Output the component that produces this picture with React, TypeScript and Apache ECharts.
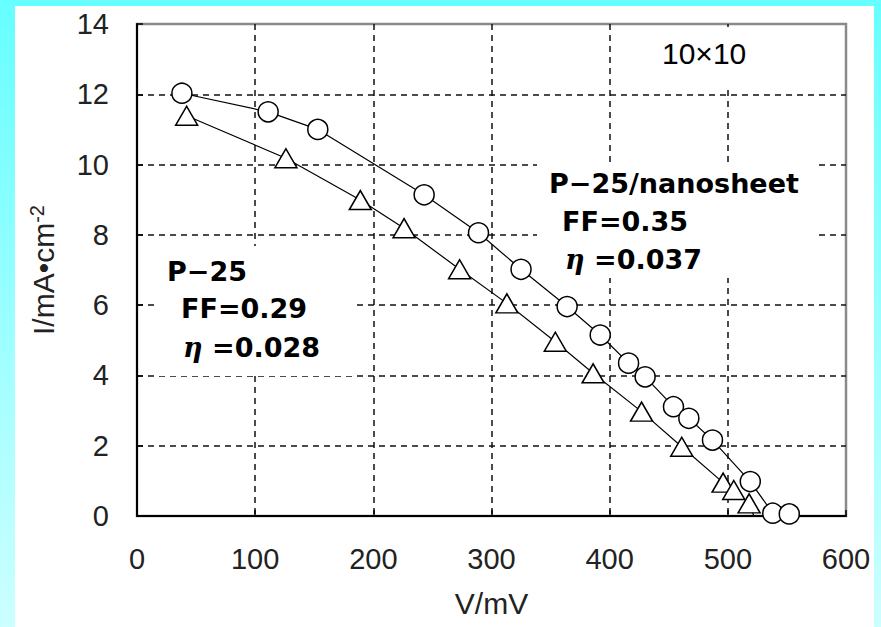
import React, { useEffect, useRef } from "react";
import * as echarts from "echarts";

const xTicks = [0, 100, 200, 300, 400, 500, 600];
const yTicks = [0, 2, 4, 6, 8, 10, 12, 14];

const nanosheetV = [38, 111, 153, 243, 289, 325, 364, 392, 416, 430, 454, 467, 487, 519, 538, 552];
const nanosheetI = [12.03, 11.5, 11.0, 9.14, 8.06, 7.02, 5.96, 5.15, 4.35, 3.96, 3.11, 2.78, 2.16, 0.98, 0.08, 0.06];

const p25V = [42, 126, 189, 226, 273, 313, 354, 386, 427, 461, 496, 505, 518, 522];
const p25I = [11.39, 10.18, 8.99, 8.19, 7.02, 6.05, 4.96, 4.06, 2.97, 1.97, 0.95, 0.74, 0.36, 0.0];

const labelFont = "'Liberation Sans', Arial, sans-serif";
const annFont = "'DejaVu Sans', sans-serif";

export default function App() {
  const ref = useRef<HTMLDivElement>(null);
  useEffect(() => {
    document.body.style.margin = "0";
    const chart = echarts.init(ref.current!, null, { renderer: "svg" });
    const nanoData = nanosheetV.map((v, i) => [v, nanosheetI[i]]);
    const p25Data = p25V.map((v, i) =>
      i === p25V.length - 1 ? { value: [v, p25I[i]], symbol: "none" } : [v, p25I[i]]
    );
    const annStyle = (text: string, x: number, y: number) => ({
      type: "text",
      x,
      y,
      z: 5,
      silent: true,
      style: {
        text,
        fill: "#000",
        fontSize: 27,
        fontWeight: "bold",
        fontFamily: annFont,
        textVerticalAlign: "middle",
        verticalAlign: "middle",
        rich: {
          e: { fontSize: 27, fontStyle: "italic", fontWeight: "bold", fontFamily: "'DejaVu Serif', serif", fill: "#000" },
        },
      },
    });
    chart.setOption({
      animation: false,
      backgroundColor: "transparent",
      grid: {
        left: 137,
        right: 35,
        top: 24,
        bottom: 111,
        show: true,
        borderColor: "#8a8a8a",
        borderWidth: 2.5,
        backgroundColor: "transparent",
      },
      xAxis: {
        type: "value",
        min: 0,
        max: 600,
        interval: 100,
        name: "V/mV",
        nameLocation: "middle",
        nameGap: 72,
        nameTextStyle: { fontSize: 30, fontFamily: labelFont, color: "#222" },
        axisLine: { show: true, onZero: false, lineStyle: { color: "#000", width: 2 } },
        axisTick: { show: true, inside: true, length: 6, lineStyle: { color: "#000", width: 1.5 } },
        axisLabel: {
          fontSize: 29,
          fontFamily: labelFont,
          color: "#222",
          margin: 28,
          formatter: (v: number) => (xTicks.includes(v) ? String(v) : ""),
        },
        splitLine: {
          show: true,
          showMinLine: false,
          showMaxLine: false,
          lineStyle: { color: "#111", type: [6, 5], width: 1.5 },
        },
      },
      yAxis: {
        type: "value",
        min: 0,
        max: 14,
        interval: 2,
        name: "I/mA•cm{sup|-2}",
        nameLocation: "middle",
        nameGap: 78,
        nameRotate: 90,
        nameTextStyle: {
          fontSize: 30,
          fontFamily: labelFont,
          color: "#222",
          rich: {
            sup: { fontSize: 20, fontFamily: labelFont, color: "#222", verticalAlign: "top", padding: [0, 0, 12, 0] },
          },
        },
        axisLine: { show: true, onZero: false, lineStyle: { color: "#000", width: 2 } },
        axisTick: { show: true, inside: true, length: 6, lineStyle: { color: "#000", width: 1.5 } },
        axisLabel: {
          fontSize: 29,
          fontFamily: labelFont,
          color: "#222",
          margin: 28,
          formatter: (v: number) => (yTicks.includes(v) ? String(v) : ""),
        },
        splitLine: {
          show: true,
          showMinLine: false,
          showMaxLine: false,
          lineStyle: { color: "#111", type: [6, 5], width: 1.5 },
        },
      },
      graphic: [
        { type: "rect", z: 1, silent: true, shape: { x: 640, y: 27, width: 150, height: 60 }, style: { fill: "#fff" } },
        { type: "rect", z: 1, silent: true, shape: { x: 537, y: 163, width: 280, height: 115 }, style: { fill: "#fff" } },
        { type: "rect", z: 1, silent: true, shape: { x: 156, y: 246, width: 198, height: 130 }, style: { fill: "#fff" } },
        {
          type: "text",
          x: 662,
          y: 53,
          z: 5,
          silent: true,
          style: {
            text: "10×10",
            fill: "#000",
            fontSize: 30,
            fontFamily: labelFont,
            textVerticalAlign: "middle",
            verticalAlign: "middle",
          },
        },
        annStyle("P−25/nanosheet", 549, 183),
        annStyle("FF=0.35", 562, 221),
        annStyle("{e|η} =0.037", 565, 259),
        annStyle("P−25", 167, 271),
        annStyle("FF=0.29", 181, 308),
        annStyle("{e|η} =0.028", 183, 347),
      ],
      series: [
        {
          name: "P-25/nanosheet",
          type: "line",
          data: nanoData,
          symbol: "circle",
          symbolSize: 20,
          z: 3,
          itemStyle: { color: "#fff", borderColor: "#000", borderWidth: 1.5 },
          lineStyle: { color: "#000", width: 1.2 },
        },
        {
          name: "P-25",
          type: "line",
          data: p25Data,
          symbol: "triangle",
          symbolSize: [22, 19],
          z: 3,
          itemStyle: { color: "#fff", borderColor: "#000", borderWidth: 1.5 },
          lineStyle: { color: "#000", width: 1.2 },
        },
      ],
    });
    return () => chart.dispose();
  }, []);
  return (
    <div
      style={{
        position: "relative",
        width: 881,
        height: 627,
        background: "linear-gradient(180deg, #66ffff 0%, #ccffff 100%)",
        overflow: "hidden",
      }}
    >
      <div style={{ position: "absolute", left: 15, top: 6, width: 859, height: 621, background: "#fff" }} />
      <div ref={ref} style={{ position: "absolute", left: 0, top: 0, width: 881, height: 627 }} />
    </div>
  );
}
